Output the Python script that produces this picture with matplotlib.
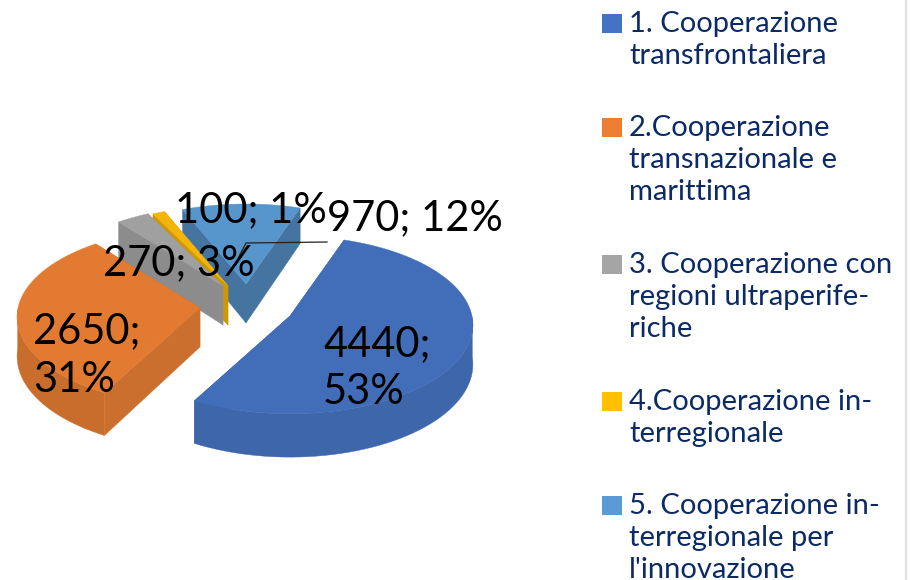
import numpy as np
import matplotlib
matplotlib.use("Agg")
import matplotlib.pyplot as plt
from matplotlib.patches import Rectangle

values = [4440, 2650, 270, 100, 970]
legend_labels = [
    "1. Cooperazione\ntransfrontaliera",
    "2.Cooperazione\ntransnazionale e\nmarittima",
    "3. Cooperazione con\nregioni ultraperife-\nriche",
    "4.Cooperazione in-\nterregionale",
    "5. Cooperazione in-\nterregionale per\nl'innovazione",
]
data_labels = ["4440;\n53%", "2650;\n31%", "270; 3%", "100; 1%", "970; 12%"]

# style, one entry per slice
top_colors = ["#426db9", "#e27b31", "#a0a0a0", "#f3b50c", "#5795cd"]
wall_colors = ["#3d66ab", "#c96d2c", "#8a8a8a", "#cc9400", "#4c7fae"]
cut_colors = ["#3d66ab", "#cb6f2e", "#8c8c8c", "#d09800", "#44749f"]
legend_colors = ["#4472c4", "#ed7d31", "#a5a5a5", "#ffc000", "#5b9bd5"]
apex = [(290, 316), (200, 308), (223, 286), (228, 286), (246, 284)]

label_pos = [(323, 356), (33, 343), (103, 275), (175, 222), (327, 230)]
legend_y = [14, 118, 255, 392, 496]

FIRST_ANGLE = 19.0
RX, RY, PERSP, DEPTH = 182.0, 88.0, 0.1, 39.0
TEXT = "#0b2a66"

plt.rcParams["font.family"] = ["Lato", "DejaVu Sans"]


def project(center, theta):
    # theta in degrees, clockwise from the top of the pie
    t = np.radians(theta)
    u, v = np.sin(t), np.cos(t)
    s = 1 / (1 + PERSP * v)
    return center[0] + RX * u * s, center[1] - RY * v * s, DEPTH * s


def apex_point(center):
    return center[0], center[1], DEPTH


def quad(ax, p, q, color):
    xs = [p[0], q[0], q[0], p[0]]
    ys = [p[1], q[1], q[1] + q[2], p[1] + p[2]]
    ax.fill(xs, ys, color=color, lw=0.3)


def draw_slice(ax, i, start, end):
    c = apex[i]
    arc = np.linspace(start, end, 80)
    # outer wall, only the part facing the viewer
    front = arc[np.cos(np.radians(arc)) <= 0]
    if len(front) > 1:
        x, y, d = project(c, front)
        ax.fill(np.r_[x, x[::-1]], np.r_[y, (y + d)[::-1]], color=wall_colors[i], lw=0.3)
    # the two cut faces
    quad(ax, apex_point(c), project(c, end), cut_colors[i])
    quad(ax, apex_point(c), project(c, start), cut_colors[i])
    x, y, d = project(c, arc)
    ax.fill(np.r_[c[0], x], np.r_[c[1], y], color=top_colors[i], lw=0.3)


fig = plt.figure(figsize=(9.17, 5.8), dpi=100)
ax = fig.add_axes([0, 0, 1, 1])
ax.set_xlim(0, 917)
ax.set_ylim(580, 0)
ax.axis("off")

total = sum(values)
angles = [FIRST_ANGLE]
for v in values:
    angles.append(angles[-1] + v / total * 360)

# back slices first
for i in [4, 3, 2, 1, 0]:
    draw_slice(ax, i, angles[i], angles[i + 1])

# leader line of the 970 label
ax.plot([327, 246, 233], [242, 243, 268], color="#222222", lw=0.9)

for text, (x, y) in zip(data_labels, label_pos):
    for n, line in enumerate(text.split("\n")):
        ax.text(x, y + n * 48.5, line, fontsize=30, color="black", va="baseline", ha="left")

for label, y, color in zip(legend_labels, legend_y, legend_colors):
    ax.add_patch(Rectangle((602, y), 20, 19, color=color, lw=0))
    for n, line in enumerate(label.split("\n")):
        ax.text(629, y + 18 + n * 32, line, fontsize=21, color=TEXT, va="baseline", ha="left")

ax.plot([905.5, 905.5], [0, 580], color="#e2e2e2", lw=1.6)

fig.savefig("out.png", dpi=100)
